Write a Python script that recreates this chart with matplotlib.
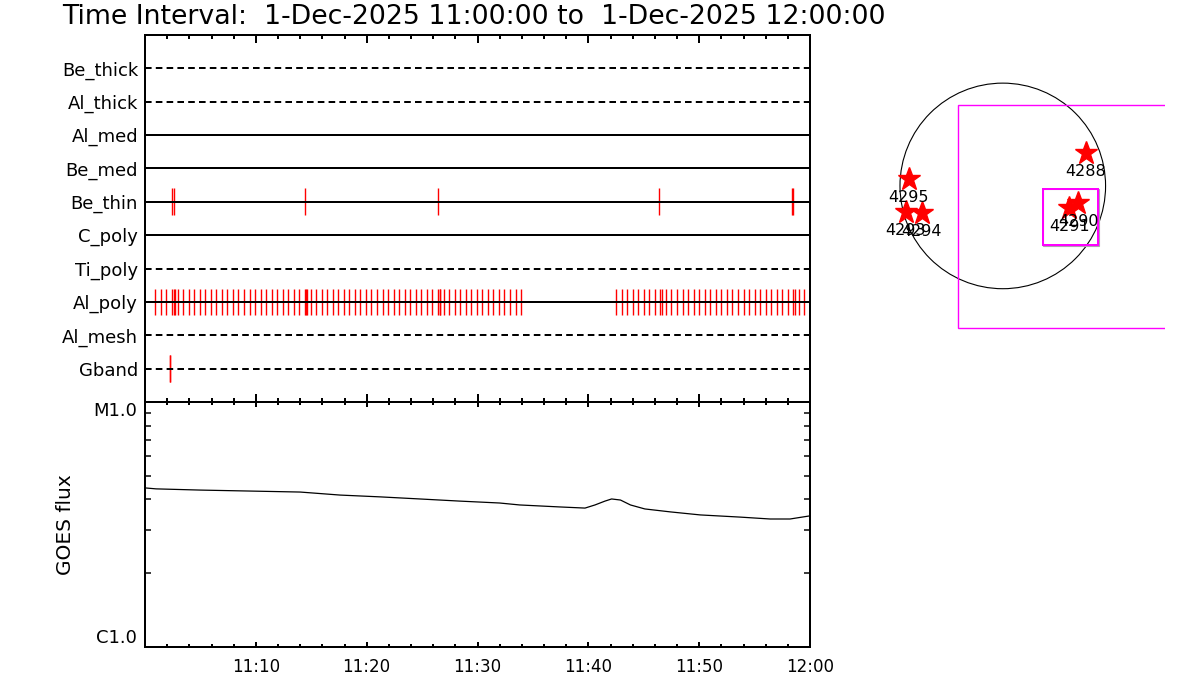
import matplotlib
matplotlib.use("Agg")
import matplotlib.pyplot as plt
import matplotlib.patches as patches
from matplotlib.ticker import FixedLocator, MultipleLocator, FuncFormatter, NullFormatter

# filter rows, top to bottom
FILTERS = ["Be_thick", "Al_thick", "Al_med", "Be_med", "Be_thin",
           "C_poly", "Ti_poly", "Al_poly", "Al_mesh", "Gband"]
DASHED = ["Be_thick", "Al_thick", "Ti_poly", "Al_mesh", "Gband"]

# exposure times, seconds after 11:00:00
BE_THIN_T = [145, 155, 864, 1584, 2784, 3504, 3508]
GBAND_T = [135, 138]
AL_POLY_T = [56, 86, 116, 146, 158, 162, 176, 206, 236, 266, 296, 326, 356, 386,
             416, 446, 476, 506, 536, 566, 596, 626, 656, 686, 716, 746, 776,
             806, 836, 866, 874, 878, 896, 926, 956, 986, 1016, 1046, 1076,
             1106, 1136, 1166, 1196, 1226, 1256, 1286, 1316, 1346, 1376, 1406,
             1436, 1466, 1496, 1526, 1556, 1586, 1596, 1599, 1616, 1646, 1676,
             1706, 1736, 1766, 1796, 1826, 1856, 1886, 1916, 1946, 1976, 2006,
             2036,
             2550, 2580, 2610, 2640, 2670, 2700, 2730, 2760, 2790, 2797, 2820,
             2850, 2880, 2910, 2940, 2970, 3000, 3030, 3060, 3090, 3120, 3150,
             3180, 3210, 3240, 3270, 3300, 3330, 3360, 3390, 3420, 3450, 3480,
             3510, 3518, 3540, 3570]
EVENTS = {"Be_thin": BE_THIN_T, "Al_poly": AL_POLY_T, "Gband": GBAND_T}

# GOES flux (W/m^2), time in seconds after 11:00:00
GOES_T = [0, 60, 300, 570, 840, 1056, 1272, 1488, 1704, 1920, 2028, 2244,
          2382, 2436, 2490, 2526, 2574, 2628, 2706, 2844, 3006, 3222, 3384,
          3492, 3600]
GOES_F = [4.46e-6, 4.42e-6, 4.37e-6, 4.33e-6, 4.29e-6, 4.17e-6, 4.10e-6,
          4.02e-6, 3.94e-6, 3.87e-6, 3.80e-6, 3.73e-6, 3.69e-6, 3.80e-6,
          3.94e-6, 4.02e-6, 3.98e-6, 3.80e-6, 3.66e-6, 3.56e-6, 3.46e-6,
          3.39e-6, 3.33e-6, 3.33e-6, 3.43e-6]

# active regions on the disk (arcsec)
AR_NUM = ["4288", "4295", "4293", "4294", "4291", "4290"]
AR_X = [777, -876, -907, -757, 621, 705]
AR_Y = [304, 62, -241, -256, -209, -163]
SUN_R = 960
# fields of view: x0, y0, width, height (arcsec)
FOV_BIG = [-414, -1330, 2200, 2083]
FOV_SMALL = [373, -549, 513, 517]
FOV_SMALL2 = [380, -557, 521, 525]

TITLE = "Time Interval:  1-Dec-2025 11:00:00 to  1-Dec-2025 12:00:00"

PX = 0.72  # points per pixel at dpi 100


def hhmm(x, pos):
    m = int(round(x / 60))
    return "%d:%02d" % (11 + m // 60, m % 60)


fig = plt.figure(figsize=(12, 7), dpi=100)

ax1 = fig.add_axes([145/1200, 1-402/700, 665/1200, 367/700])
ax2 = fig.add_axes([145/1200, 1-647/700, 665/1200, 245/700])
ax3 = fig.add_axes([870/1200, 1-340/700, 295/1200, 280/700])

# ---- filter timeline ----
nrow = len(FILTERS)
for i, name in enumerate(FILTERS):
    yrow = nrow - i
    ls = (0, (3.3, 2.1)) if name in DASHED else "-"
    ax1.axhline(yrow, color="k", lw=2*PX, ls=ls, zorder=3)
    if name in EVENTS:
        ax1.vlines(EVENTS[name], yrow - 0.4, yrow + 0.4, color="red",
                   lw=1.0, zorder=2)

ax1.set_xlim(0, 3600)
ax1.set_ylim(0, nrow + 1)
ax1.set_yticks(range(nrow, 0, -1))
ax1.set_yticklabels(FILTERS, fontsize=13)
ax1.xaxis.set_major_locator(MultipleLocator(600))
ax1.xaxis.set_minor_locator(MultipleLocator(120))
ax1.xaxis.set_major_formatter(NullFormatter())
ax1.tick_params(axis="x", which="both", direction="in", top=True, bottom=True,
                width=2*PX)
ax1.tick_params(axis="x", which="major", length=8*PX)
ax1.tick_params(axis="x", which="minor", length=4*PX)
ax1.tick_params(axis="y", direction="in", length=4*PX, width=2*PX, pad=5)
for s in ax1.spines.values():
    s.set_linewidth(2*PX)

# ---- GOES panel ----
ax2.plot(GOES_T, GOES_F, color="k", lw=0.9)
ax2.set_yscale("log")
ax2.set_xlim(0, 3600)
ax2.set_ylim(1e-6, 1e-5)
ax2.yaxis.set_major_locator(FixedLocator([1e-6, 1e-5]))
ax2.yaxis.set_major_formatter(FuncFormatter(lambda v, p: "C1.0" if v < 5e-6 else "M1.0"))
ax2.yaxis.set_minor_locator(FixedLocator([k*1e-6 for k in range(2, 10)]))
ax2.yaxis.set_minor_formatter(NullFormatter())
ax2.tick_params(axis="y", which="both", direction="in", left=True, right=True,
                width=1.5*PX, labelsize=13, pad=6)
ax2.tick_params(axis="y", which="minor", length=6*PX)
ax2.tick_params(axis="y", which="major", length=0)
ax2.xaxis.set_major_locator(FixedLocator([600, 1200, 1800, 2400, 3000, 3600]))
ax2.xaxis.set_minor_locator(MultipleLocator(120))
ax2.xaxis.set_major_formatter(FuncFormatter(hhmm))
ax2.tick_params(axis="x", which="both", direction="in", top=True, bottom=True,
                width=2*PX, labelsize=12, pad=8)
ax2.tick_params(axis="x", which="major", length=5*PX)
ax2.tick_params(axis="x", which="minor", length=3*PX)
ax2.set_ylabel("GOES flux", fontsize=14.5)
ax2.yaxis.set_label_coords(-0.106, 0.5)
for s in ax2.spines.values():
    s.set_linewidth(2*PX)
fig.canvas.draw()
ymajor = ax2.yaxis.get_major_ticks()
ymajor[0].label1.set_va("bottom")
ymajor[1].label1.set_va("top")

# ---- disk view ----
ax3.set_xlim(-1240, 1515)
ax3.set_ylim(-1439, 1176)
ax3.axis("off")
ax3.add_patch(patches.Circle((0, 0), SUN_R, fill=False, color="k", lw=0.8))
ax3.add_patch(patches.Rectangle(FOV_BIG[:2], FOV_BIG[2], FOV_BIG[3],
                                fill=False, ec="#ff00ff", lw=1.4*PX))
ax3.add_patch(patches.Rectangle(FOV_SMALL2[:2], FOV_SMALL2[2], FOV_SMALL2[3],
                                fill=False, ec="#b0a0b0", lw=0.8))
ax3.add_patch(patches.Rectangle(FOV_SMALL[:2], FOV_SMALL[2], FOV_SMALL[3],
                                fill=False, ec="#ff00ff", lw=2*PX))
ax3.plot(AR_X, AR_Y, ls="none", marker="*", ms=17, color="red", mec="red")
for name, x, y in zip(AR_NUM, AR_X, AR_Y):
    ax3.text(x, y - 172, name, ha="center", va="center", fontsize=11.5)

fig.text(62/1200, 1-17/700, TITLE, ha="left", va="center", fontsize=19.3)

fig.savefig("out.png", dpi=100)
